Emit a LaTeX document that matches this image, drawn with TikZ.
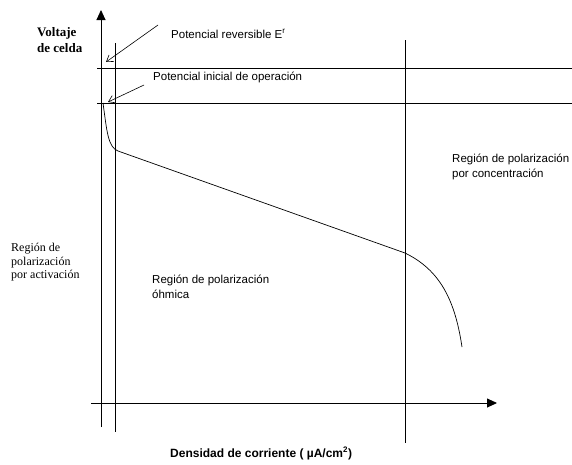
\documentclass[tikz,border=0pt]{standalone}
\usepackage{fontspec}
\setmainfont{Liberation Serif}
\setsansfont{Liberation Sans}
\usetikzlibrary{arrows.meta}
\begin{document}
\begin{tikzpicture}[x=1pt,y=-1pt,
  thin line/.style={line width=0.7pt},
  axisline/.style={line width=0.9pt,-{Triangle[length=10pt,width=9pt]}},
  pointer/.style={line width=0.6pt,-{Straight Barb[length=6pt,width=8pt]}},
  sanslabel/.style={font=\sffamily\fontsize{11.5}{14.5}\selectfont,inner sep=0pt,anchor=north west,align=left},
  sansline/.style={font=\sffamily\fontsize{11.5}{14.5}\selectfont,inner sep=0pt,anchor=base west},
  seriflabel/.style={font=\rmfamily\fontsize{12}{13.5}\selectfont,inner sep=0pt,anchor=north west,align=left}]
\useasboundingbox (0,0) rectangle (572,464);
% axes
\coordinate (yb) at (101,427);
\coordinate (yt) at (101,10);
\coordinate (xl) at (91,403);
\coordinate (xr) at (497,403);
\draw[axisline] (yb) -- (yt);
\draw[axisline] (xl) -- (xr);
% vertical region lines
\coordinate (v1t) at (115,43);
\coordinate (v1b) at (115,432);
\coordinate (v2t) at (405,40);
\coordinate (v2b) at (405,443);
\draw[thin line] (v1t) -- (v1b);
\draw[thin line] (v2t) -- (v2b);
% horizontal lines
\coordinate (h1l) at (97,68);
\coordinate (h1r) at (572,68);
\coordinate (h2l) at (97,103);
\coordinate (h2r) at (572,103);
\draw[thin line] (h1l) -- (h1r);
\draw[thin line] (h2l) -- (h2r);
% polarization curve
\draw[thin line] (103,103) .. controls (107,132) and (108,147) .. (118,151)
  -- (405,253) .. controls (440,270) and (455,300) .. (462,347);
% labels
\node[font=\rmfamily\bfseries\fontsize{13}{16}\selectfont,inner sep=0pt,anchor=north west,align=left] (volt) at (37,27) {Voltaje\\de celda};
\node[sansline] (rev) at (171,38) {Potencial reversible E\textsuperscript{r}};
\node[sansline] (ini) at (153,80) {Potencial inicial de operación};
\node[sanslabel] (conc) at (452,154) {Región de polarización\\por concentración};
\node[sanslabel] (ohm) at (152,275) {Región de polarización\\óhmica};
\node[seriflabel] (act) at (11,243) {Región de\\polarización\\por activación};
\node[font=\sffamily\bfseries\fontsize{12}{14}\selectfont,inner sep=0pt,anchor=base west] (dens) at (170,457) {Densidad de corriente ( µA/cm\textsuperscript{2})};
% pointers
\coordinate (p1s) at (158,25);
\coordinate (p1e) at (106,62);
\coordinate (p2s) at (144,85);
\coordinate (p2e) at (108,102);
\draw[pointer] (p1s) -- (p1e);
\draw[pointer] (p2s) -- (p2e);
\end{tikzpicture}
\end{document}
